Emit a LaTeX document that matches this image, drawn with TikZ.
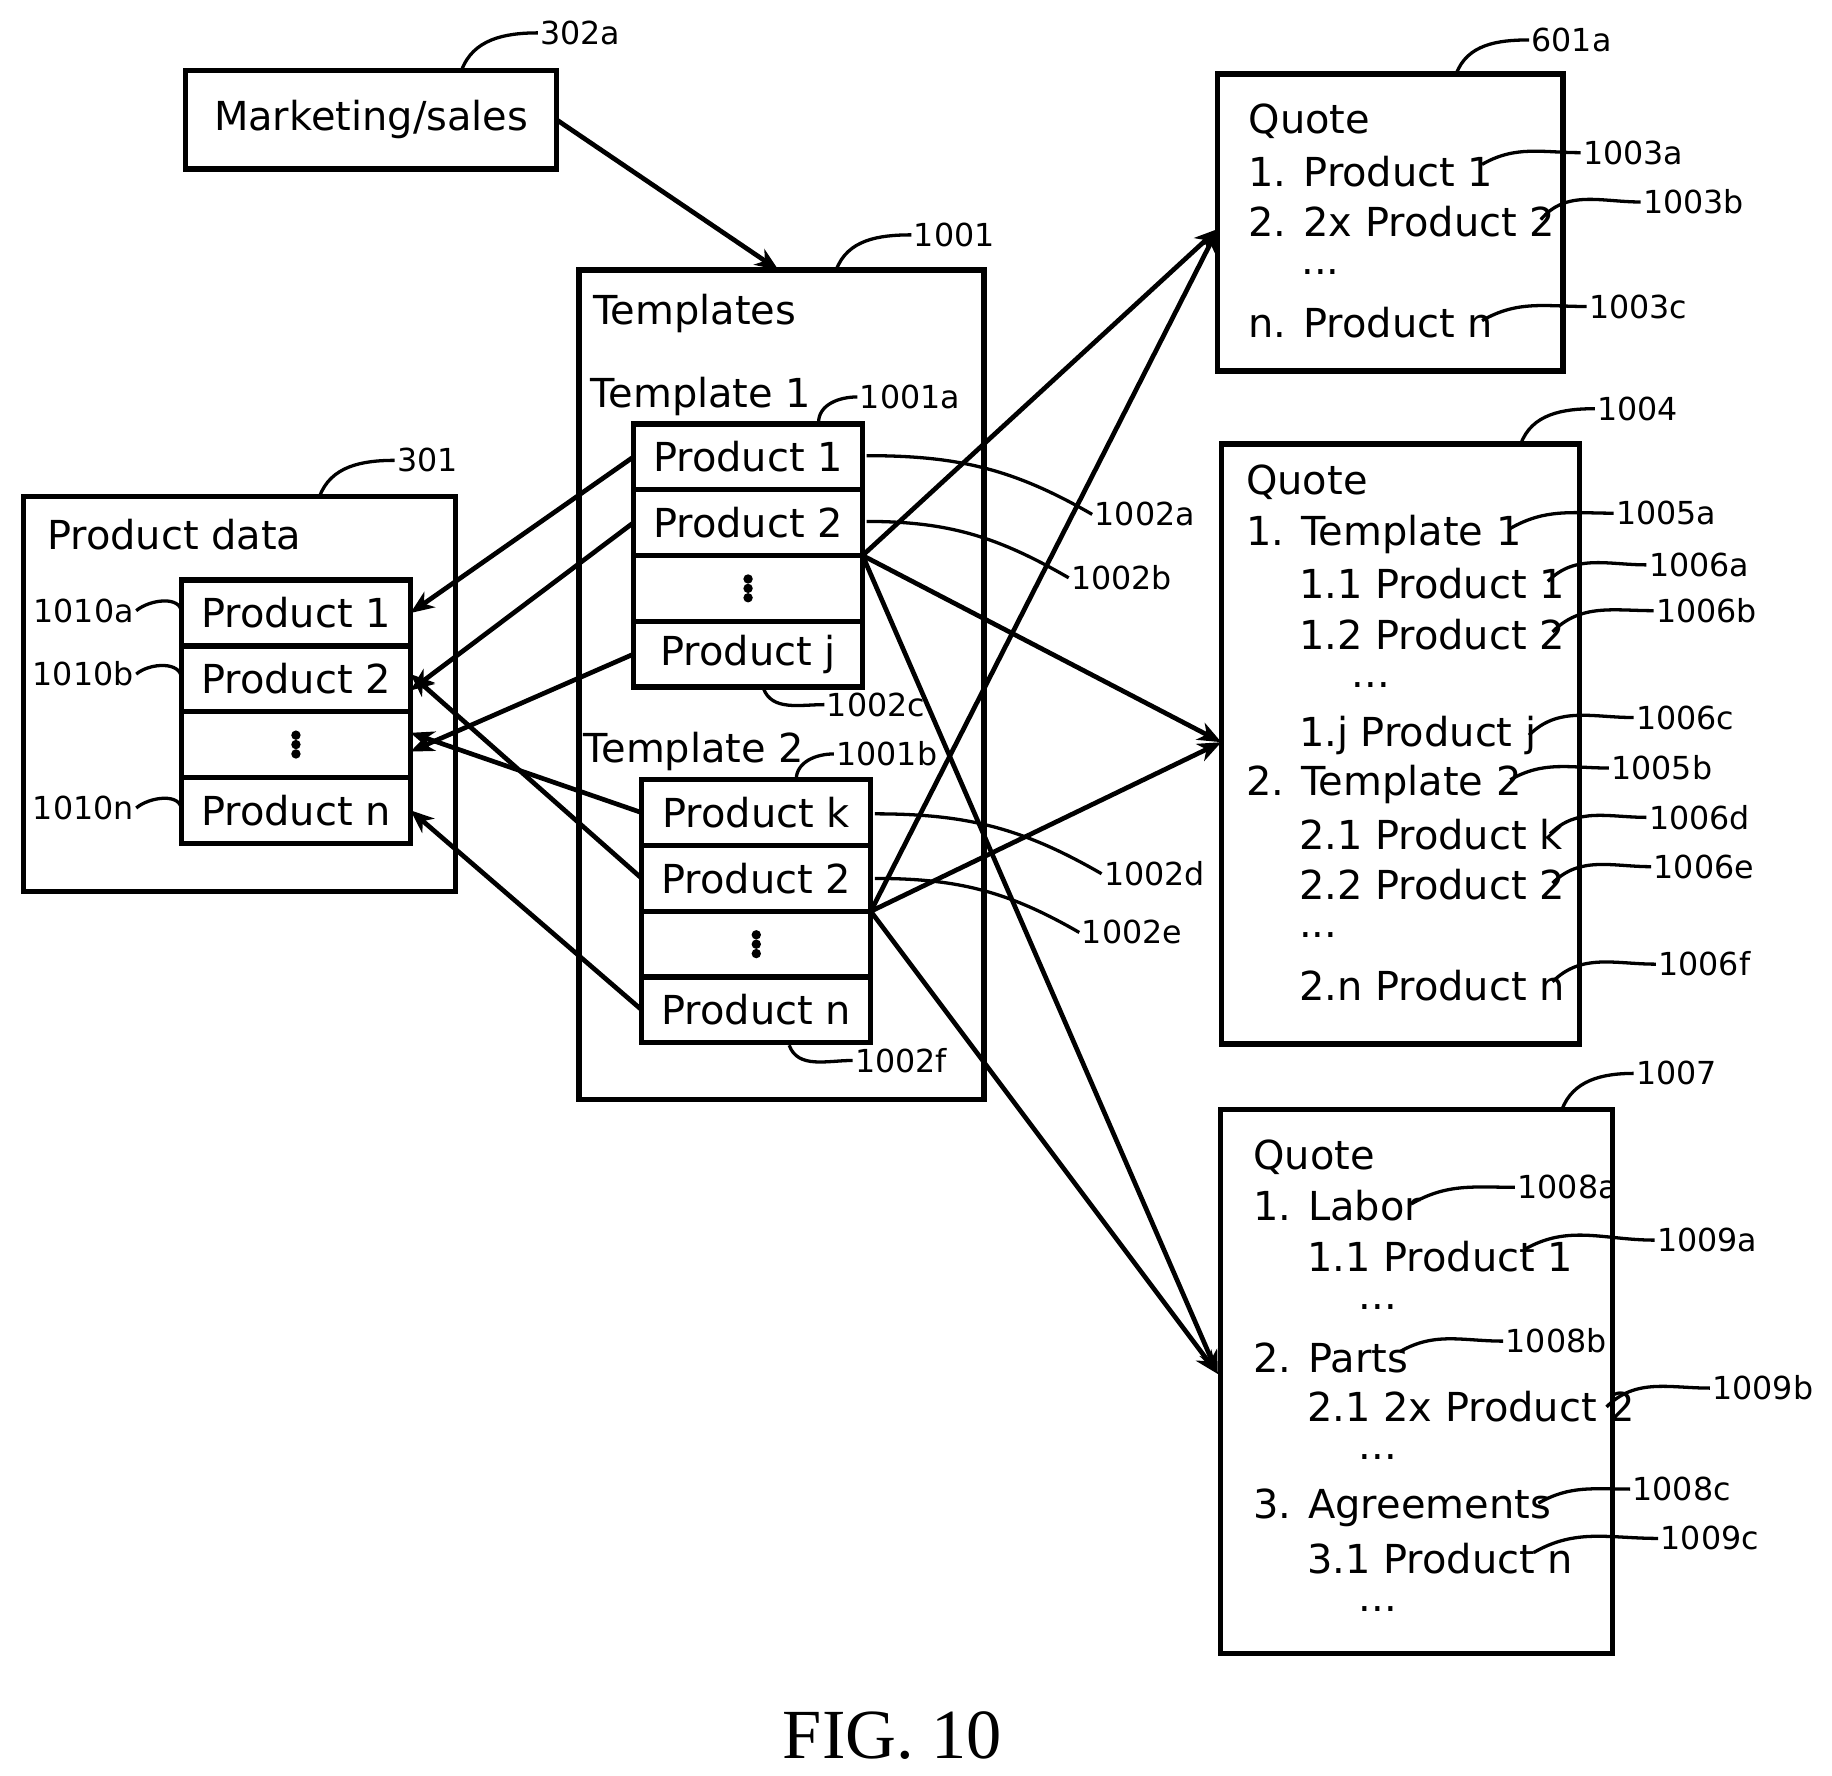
\documentclass[tikz,border=0pt]{standalone}
\usepackage{fontspec}
\setmainfont{DejaVu Sans}
\newfontfamily\figfont{Liberation Serif}
\usetikzlibrary{arrows.meta, positioning}

\tikzset{
  box/.style = {draw, line width=4.5pt, inner sep=0pt, outer sep=0pt},
  cell/.style = {draw, line width=4.5pt, outer sep=0pt, inner sep=0pt,
                 minimum width=195pt, minimum height=56pt, font=\fontsize{34}{38}\selectfont},
  txt/.style = {anchor=west, inner sep=0pt, font=\fontsize{34}{38}\selectfont},
  num/.style = {anchor=west, inner sep=2pt, font=\fontsize{27}{30}\selectfont},
  lead/.style = {line width=2.8pt},
  conn/.style = {line width=4pt, -{Stealth[length=20pt, width=16pt, inset=6pt]}},
}
\newcommand\dotsv{\tikz\foreach \i in {0,1,2} \fill (0,\i*8pt) circle (4pt);}

\begin{document}
\begin{tikzpicture}[x=1pt, y=-1pt]
\useasboundingbox (0,0) rectangle (1560,1512);

%marketing
\node[box, minimum width=316pt, minimum height=84pt, font=\fontsize{34}{38}\selectfont] (mkt) at (316,102) {Marketing/sales};
\node[num] (l302a) at (458,28) {302a};
\draw[lead] (393,60) to[out=70, in=180] (l302a.west);

%product data
\draw[box] (20,423) rectangle (388,759);
\coordinate (pdtop) at (272,423);
\node[txt] (pdname) at (40,455) {Product data};
\node[num] (l301) at (336,392) {301};
\draw[lead] (pdtop) to[out=70, in=180] (l301.west);
\node[cell] (pd1) at (252,522) {Product 1};
\node[cell, below=0pt of pd1] (pd2) {Product 2};
\node[cell, below=0pt of pd2] (pd3) {\dotsv};
\node[cell, below=0pt of pd3] (pdn) {Product n};
\node[num, anchor=east] (l1010a) at (116,520) {1010a};
\node[num, anchor=east] (l1010b) at (116,574) {1010b};
\node[num, anchor=east] (l1010n) at (116,688) {1010n};
\draw[lead] (l1010a.east) to[out=40, in=90] (pd1.west);
\draw[lead] (l1010b.east) to[out=40, in=90] (pd2.west);
\draw[lead] (l1010n.east) to[out=40, in=90] (pdn.west);

%templates
\draw[box] (493,230) rectangle (838,936);
\node[txt] (tname) at (505,267) {Templates};
\node[num] (l1001) at (776,200) {1001};
\draw[lead] (712,230) to[out=70, in=180] (l1001.west);

\node[txt] (t1name) at (503,338) {Template 1};
\node[cell] (a1) at (637,389) {Product 1};
\node[cell, below=0pt of a1] (a2) {Product 2};
\node[cell, below=0pt of a2] (a3) {\dotsv};
\node[cell, below=0pt of a3] (aj) {Product j};
\node[num] (l1001a) at (730,338) {1001a};
\draw[lead] (697,360) to[out=90, in=180] (l1001a.west);
\node[num] (l1002c) at (702,600) {1002c};
\draw[lead] (650,586) to[out=-70, in=180] (l1002c.west);

\node[txt] (t2name) at (497,640) {Template 2};
\node[cell] (b1) at (644,692) {Product k};
\node[cell, below=0pt of b1] (b2) {Product 2};
\node[cell, below=0pt of b2] (b3) {\dotsv};
\node[cell, below=0pt of b3] (bn) {Product n};
\node[num] (l1001b) at (710,642) {1001b};
\draw[lead] (678,664) to[out=90, in=180] (l1001b.west);
\node[num] (l1002f) at (726,903) {1002f};
\draw[lead] (672,890) to[out=-70, in=180] (l1002f.west);

\node[num] (l1002a) at (930,438) {1002a};
\draw[lead] (738,388) to[out=0, in=150] (l1002a.west);
\node[num] (l1002b) at (910,492) {1002b};
\draw[lead] (738,444) to[out=0, in=150] (l1002b.west);
\node[num] (l1002d) at (938,744) {1002d};
\draw[lead] (745,693) to[out=0, in=150] (l1002d.west);
\node[num] (l1002e) at (919,794) {1002e};
\draw[lead] (745,748) to[out=0, in=150] (l1002e.west);

%quote 1
\draw[box] (1037,63) rectangle (1331,316);
\node[num] (l601a) at (1302,34) {601a};
\draw[lead] (1240,63) to[out=70, in=180] (l601a.west);
\node[txt] (q1a) at (1063,103) {Quote};
\node[txt] (q1b) at (1063,146) {1. Product 1};
\node[txt] (q1c) at (1063,189) {2. 2x Product 2};
\node[txt] (q1d) at (1108,232) {...};
\node[txt] (q1e) at (1063,275) {n. Product n};
\node[num] (l1003a) at (1346,130) {1003a};
\node[num] (l1003b) at (1397,172) {1003b};
\node[num] (l1003c) at (1351,261) {1003c};
\draw[lead] (1262,140) to[out=30, in=180] (l1003a.west);
\draw[lead] (1312,187) to[out=50, in=180] (l1003b.west);
\draw[lead] (1262,273) to[out=30, in=180] (l1003c.west);

%quote 2
\draw[box] (1040,378) rectangle (1345,889);
\node[num] (l1004) at (1358,348) {1004};
\draw[lead] (1295,378) to[out=70, in=180] (l1004.west);
\node[txt] (q2a) at (1061,411) {Quote};
\node[txt] (q2b) at (1061,455) {1. Template 1};
\node[txt] (q2c) at (1106,497) {1.1 Product 1};
\node[txt] (q2d) at (1106,540) {1.2 Product 2};
\node[txt] (q2e) at (1151,583) {...};
\node[txt] (q2f) at (1106,626) {1.j Product j};
\node[txt] (q2g) at (1061,668) {2. Template 2};
\node[txt] (q2h) at (1106,711) {2.1 Product k};
\node[txt] (q2i) at (1106,753) {2.2 Product 2};
\node[txt] (q2j) at (1106,796) {...};
\node[txt] (q2k) at (1106,839) {2.n Product n};
\node[num] (l1005a) at (1374,437) {1005a};
\node[num] (l1006a) at (1402,481) {1006a};
\node[num] (l1006b) at (1408,520) {1006b};
\node[num] (l1006c) at (1391,611) {1006c};
\node[num] (l1005b) at (1370,654) {1005b};
\node[num] (l1006d) at (1402,696) {1006d};
\node[num] (l1006e) at (1406,738) {1006e};
\node[num] (l1006f) at (1410,821) {1006f};
\draw[lead] (1286,450) to[out=30, in=180] (l1005a.west);
\draw[lead] (1318,495) to[out=45, in=180] (l1006a.west);
\draw[lead] (1322,538) to[out=45, in=180] (l1006b.west);
\draw[lead] (1302,626) to[out=45, in=180] (l1006c.west);
\draw[lead] (1286,664) to[out=30, in=180] (l1005b.west);
\draw[lead] (1320,710) to[out=45, in=180] (l1006d.west);
\draw[lead] (1322,752) to[out=45, in=180] (l1006e.west);
\draw[lead] (1322,836) to[out=45, in=180] (l1006f.west);

%quote 3
\draw[box] (1039,945) rectangle (1373,1408);
\node[num] (l1007) at (1391,914) {1007};
\draw[lead] (1330,945) to[out=70, in=180] (l1007.west);
\node[txt] (q3a) at (1067,985) {Quote};
\node[txt] (q3b) at (1067,1027) {1. Labor};
\node[txt] (q3c) at (1113,1070) {1.1 Product 1};
\node[txt] (q3d) at (1157,1113) {...};
\node[txt] (q3e) at (1067,1156) {2. Parts};
\node[txt] (q3f) at (1113,1198) {2.1 2x Product 2};
\node[txt] (q3g) at (1157,1241) {...};
\node[txt] (q3h) at (1067,1284) {3. Agreements};
\node[txt] (q3i) at (1113,1327) {3.1 Product n};
\node[txt] (q3j) at (1157,1370) {...};
\node[num] (l1008a) at (1290,1011) {1008a};
\node[num] (l1009a) at (1409,1056) {1009a};
\node[num] (l1008b) at (1280,1142) {1008b};
\node[num] (l1009b) at (1456,1182) {1009b};
\node[num] (l1008c) at (1388,1268) {1008c};
\node[num] (l1009c) at (1412,1310) {1009c};
\draw[lead] (1202,1025) to[out=30, in=180] (l1008a.west);
\draw[lead] (1298,1064) to[out=30, in=180] (l1009a.west);
\draw[lead] (1192,1151) to[out=30, in=180] (l1008b.west);
\draw[lead] (1368,1198) to[out=45, in=180] (l1009b.west);
\draw[lead] (1310,1280) to[out=30, in=180] (l1008c.west);
\draw[lead] (1306,1322) to[out=30, in=180] (l1009c.west);

%connectors
\draw[conn] (mkt.east) -- (663,230);
\draw[conn] (a1.west) -- (pd1.east);
\draw[conn] (a2.west) -- ([yshift=-10pt]pd2.east);
\draw[conn] (aj.west) -- ([yshift=-6pt]pd3.east);
\draw[conn] (b1.west) -- ([yshift=10pt]pd3.east);
\draw[conn] (b2.west) -- ([yshift=4pt]pd2.east);
\draw[conn] (bn.west) -- (pdn.east);
\coordinate (in1) at (1037,195);
\coordinate (in2) at (1040,632);
\coordinate (in3) at (1037,1170);
\foreach \src in {a2.south east, b2.south east}
  \foreach \dst in {in1, in2, in3}
    \draw[conn] (\src) -- (\dst);

\node[font=\figfont\fontsize{60}{70}\selectfont] (fig) at (760,1478) {FIG. 10};
\end{tikzpicture}
\end{document}
